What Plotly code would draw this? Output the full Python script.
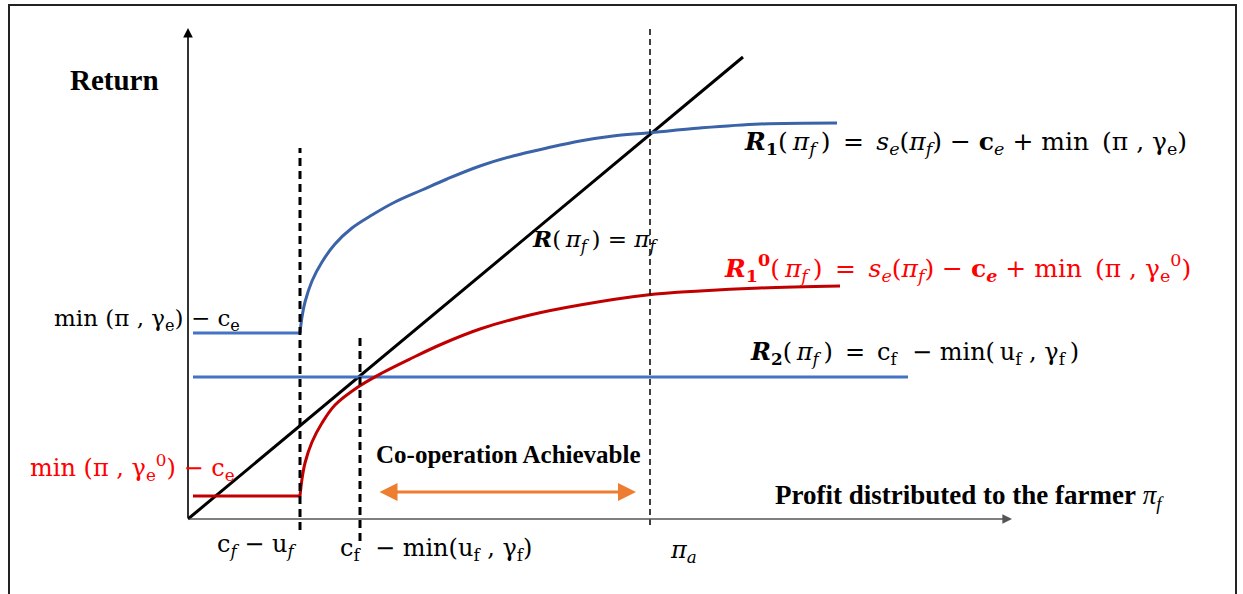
import plotly.graph_objects as go

# ---------------- data (diagram units: origin at the axes' corner) ----------------
r1_x = [5, 112, 114, 117, 124, 134, 147, 164, 184, 207, 234, 259, 292, 325, 359, 392, 425, 459, 512, 572, 649]
r1_y = [186, 186, 202, 217, 238, 257, 275, 291, 304, 317, 329, 340, 353, 363, 371, 378, 383, 386, 391, 395, 396]

r10_x = [5, 112, 114, 117, 124, 134, 147, 170, 194, 224, 254, 292, 342, 392, 459, 512, 572, 652]
r10_y = [23, 23, 40, 56, 77, 96, 114, 132, 146, 161, 175, 190, 204, 214, 224, 228, 231, 233]

r2_x = [5, 720]
r2_y = [142, 142]

id_x = [0, 555]
id_y = [0, 462]

# vertical reference lines: x, bottom, top
thr_x = [112, 172, 462]
thr_lo = [-11, -22, -6]
thr_hi = [371, 181, 491]

coop_x = [190, 448]
coop_y = 27

x_axis_end = 824
y_axis_end = 491

# ---------------- figure ----------------
TIMES = "Liberation Serif, Times New Roman, serif"
MATH = "DejaVu Serif, serif"
BLUE_FLAT = "#4472C4"
BLUE_CURVE = "#3A63A8"
RED_CURVE = "#C00000"
RED_TEXT = "#FF0000"
ORANGE = "#ED7D31"
SP = "\u2009"   # thin space
EN = "\u2002"   # en space

fig = go.Figure()

fig.add_trace(go.Scatter(x=id_x, y=id_y, mode="lines",
                         line=dict(color="black", width=3), hoverinfo="skip"))
fig.add_trace(go.Scatter(x=r2_x, y=r2_y, mode="lines",
                         line=dict(color=BLUE_FLAT, width=3), hoverinfo="skip"))
fig.add_trace(go.Scatter(x=r1_x[:2], y=r1_y[:2], mode="lines",
                         line=dict(color=BLUE_FLAT, width=3), hoverinfo="skip"))
fig.add_trace(go.Scatter(x=r1_x[1:], y=r1_y[1:], mode="lines",
                         line=dict(color=BLUE_CURVE, width=3, shape="spline", smoothing=1.0),
                         hoverinfo="skip"))
fig.add_trace(go.Scatter(x=r10_x[:2], y=r10_y[:2], mode="lines",
                         line=dict(color=RED_CURVE, width=3), hoverinfo="skip"))
fig.add_trace(go.Scatter(x=r10_x[1:], y=r10_y[1:], mode="lines",
                         line=dict(color=RED_CURVE, width=3, shape="spline", smoothing=1.0),
                         hoverinfo="skip"))

dash_styles = [dict(width=3, dash="8px,5px"), dict(width=3, dash="8px,5px"), dict(width=1.5, dash="6px,4px")]
for xv, lo, hi, st in zip(thr_x, thr_lo, thr_hi, dash_styles):
    fig.add_trace(go.Scatter(x=[xv, xv], y=[lo, hi], mode="lines",
                             line=dict(color="black", **st), hoverinfo="skip"))

fig.add_shape(type="rect", xref="paper", yref="paper", x0=9 / 1243, x1=1236 / 1243,
              y0=-0.05, y1=1 - 5 / 594, line=dict(color="#222222", width=2))

ann = []
ann.append(dict(x=x_axis_end, y=0, ax=0, ay=0, xref="x", yref="y", axref="x", ayref="y",
                showarrow=True, arrowhead=2, arrowsize=1.2, arrowwidth=1.6,
                arrowcolor="#555555", text=""))
ann.append(dict(x=0, y=y_axis_end, ax=0, ay=0, xref="x", yref="y", axref="x", ayref="y",
                showarrow=True, arrowhead=2, arrowsize=1.2, arrowwidth=1.6,
                arrowcolor="black", text=""))
ann.append(dict(x=coop_x[1], y=coop_y, ax=coop_x[0], ay=coop_y, xref="x", yref="y",
                axref="x", ayref="y", showarrow=True, arrowhead=2, startarrowhead=2,
                arrowside="end+start", arrowsize=1.2, startarrowsize=1.2, arrowwidth=3,
                arrowcolor=ORANGE, text=""))


def px(x, y):
    return x - 188, 519 - y


def label(text, x, y, size, color="black", family=MATH, anchor="left"):
    X, Y = px(x, y)
    ann.append(dict(x=X, y=Y, xref="x", yref="y", text=text, showarrow=False,
                    xanchor=anchor, yanchor="middle",
                    font=dict(family=family, size=size, color=color)))


label("<b>Return</b>", 68, 80, 29, family=TIMES)
label(f"<b><i>R</i><sub>1</sub></b>({SP}<i>π<sub>f</sub></i>{SP}){EN}={EN}<i>s<sub>e</sub></i>(<i>π<sub>f</sub></i>)"
      f" − <b>c</b><sub><i>e</i></sub> + min{SP} (π , γ<sub>e</sub>)", 742, 143, 25)
label(f"<b><i>R</i></b>({SP}<i>π<sub>f</sub></i>{SP}) = <i>π<sub>f</sub></i>", 530, 240, 23)
label(f"<b><i>R</i><sub>1</sub><sup>0</sup></b>({SP}<i>π<sub>f</sub></i>{SP}){EN}={EN}<i>s<sub>e</sub></i>(<i>π<sub>f</sub></i>)"
      f" − <b>c<sub><i>e</i></sub></b> + min{SP} (π , γ<sub>e</sub><sup>0</sup>)", 722, 268, 25, RED_TEXT)
label(f"<b><i>R</i><sub>2</sub></b>({SP}<i>π<sub>f</sub></i>{SP}){EN}={EN}c<sub>f</sub>  − min({SP}u<sub>f</sub> , γ<sub>f</sub>{SP})",
      748, 353, 24)
label("min (π , γ<sub>e</sub>) − c<sub>e</sub>", 52, 320, 23)
label("min (π , γ<sub>e</sub><sup>0</sup>) − c<sub>e</sub>", 28, 467, 24, RED_TEXT)
label("<b>Co-operation Achievable</b>", 374, 454, 25, family=TIMES)
label("<b>Profit distributed to the farmer</b> <i>π<sub>f</sub></i>", 773, 497, 27, family=TIMES)
label("c<sub><i>f</i></sub> − u<sub><i>f</i></sub>", 215, 545, 24)
label(f"c<sub>f</sub>  − min(u<sub>f</sub> , γ<sub>f</sub>)", 338, 549, 24)
label("<i>π<sub>a</sub></i>", 668, 551, 24)

fig.update_layout(
    annotations=ann,
    width=1243, height=594, autosize=False,
    margin=dict(l=0, r=0, t=0, b=0),
    paper_bgcolor="white", plot_bgcolor="white",
    showlegend=False,
    xaxis=dict(range=[-188, 1055], visible=False, fixedrange=True),
    yaxis=dict(range=[-75, 519], visible=False, fixedrange=True),
)

fig.write_html("out.html", config={"displayModeBar": False},
               post_script="document.body.style.margin='0';document.body.style.padding='0';")
